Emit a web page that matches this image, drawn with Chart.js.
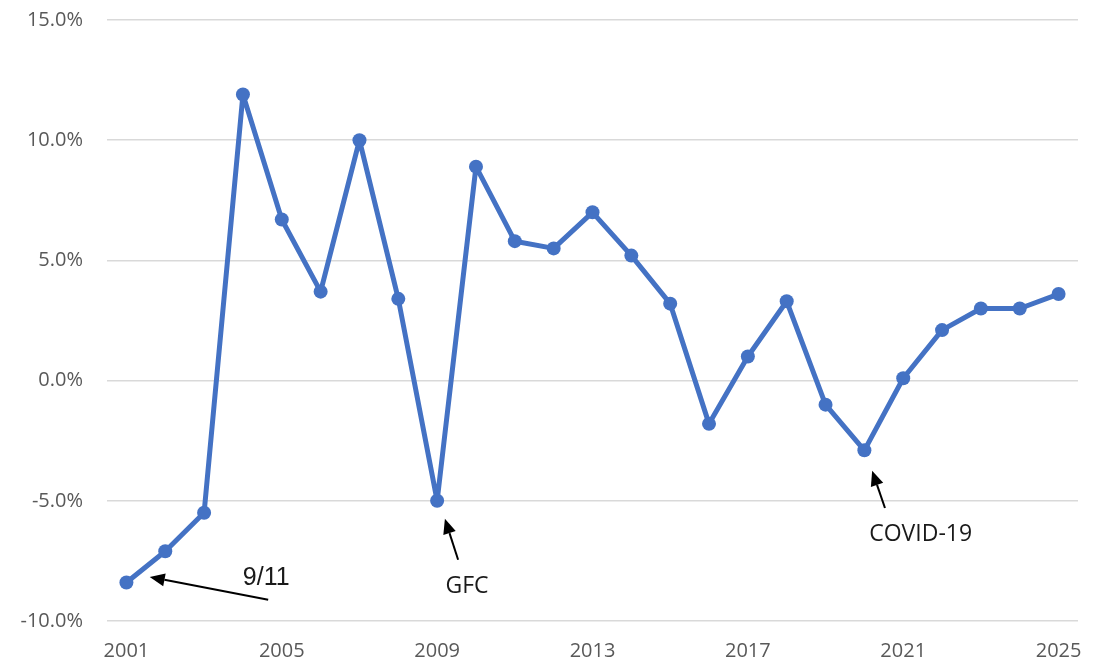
<!DOCTYPE html>
<html>
<head>
<meta charset="utf-8">
<script src="https://cdn.jsdelivr.net/npm/chart.js@4"></script>
<style>
  html, body { margin: 0; padding: 0; background: #fff; }
  #wrap { width: 1099px; height: 662px; }
</style>
</head>
<body>
<div id="wrap"><canvas id="growthChart" width="1099" height="662"></canvas></div>
<script>
    // Years on the category axis
    const years = ['2001', '2002', '2003', '2004', '2005', '2006', '2007', '2008', '2009', '2010',
                   '2011', '2012', '2013', '2014', '2015', '2016', '2017', '2018', '2019', '2020',
                   '2021', '2022', '2023', '2024', '2025'];

    // Annual change, percent
    const growth = [-8.4, -7.1, -5.5, 11.9, 6.7, 3.7, 10.0, 3.4, -5.0, 8.9,
                    5.8, 5.5, 7.0, 5.2, 3.2, -1.8, 1.0, 3.3, -1.0, -2.9,
                    0.1, 2.1, 3.0, 3.0, 3.6];

    const yTicks = [-10, -5, 0, 5, 10, 15];

    // Callouts, placed in data units (category index, percent)
    const callouts = [
        { text: '9/11', font: '25px "Liberation Sans", Arial, sans-serif', at: [3.6, -8.2], tail: [3.65, -9.12], head: [0.6, -8.17] },
        { text: 'GFC', font: '23px "Open Sans", sans-serif', at: [8.77, -8.58], tail: [8.54, -7.45], head: [8.2, -5.75] },
        { text: 'COVID-19', font: '23px "Open Sans", sans-serif', at: [20.45, -6.42], tail: [19.53, -5.3], head: [19.2, -3.75] }
    ];

    const calloutPlugin = {
        id: 'callouts',
        afterDatasetsDraw(chart) {
            const ctx = chart.ctx;
            const x = chart.scales.x;
            const y = chart.scales.y;
            ctx.save();
            callouts.forEach(c => {
                const x1 = x.getPixelForValue(c.tail[0]), y1 = y.getPixelForValue(c.tail[1]);
                const x2 = x.getPixelForValue(c.head[0]), y2 = y.getPixelForValue(c.head[1]);
                const ang = Math.atan2(y2 - y1, x2 - x1);
                const len = 15, half = 6.5;
                const bx = x2 - len * Math.cos(ang), by = y2 - len * Math.sin(ang);

                ctx.strokeStyle = '#000';
                ctx.fillStyle = '#000';
                ctx.lineWidth = 2;
                ctx.beginPath();
                ctx.moveTo(x1, y1);
                ctx.lineTo(bx, by);
                ctx.stroke();

                ctx.beginPath();
                ctx.moveTo(x2, y2);
                ctx.lineTo(bx + half * Math.sin(ang), by - half * Math.cos(ang));
                ctx.lineTo(bx - half * Math.sin(ang), by + half * Math.cos(ang));
                ctx.closePath();
                ctx.fill();

                ctx.font = c.font;
                ctx.fillStyle = '#1a1a1a';
                ctx.textAlign = 'center';
                ctx.textBaseline = 'middle';
                ctx.fillText(c.text, x.getPixelForValue(c.at[0]), y.getPixelForValue(c.at[1]));
            });
            ctx.restore();
        }
    };

    const tickFont = { family: '"Open Sans", sans-serif', size: 20 };

    const config = {
        type: 'line',
        data: {
            labels: years,
            datasets: [{
                data: growth,
                borderColor: '#4472C4',
                backgroundColor: '#4472C4',
                borderWidth: 5,
                borderJoinStyle: 'round',
                borderCapStyle: 'round',
                pointRadius: 7,
                pointBorderWidth: 0,
                pointBackgroundColor: '#4472C4',
                tension: 0
            }]
        },
        options: {
            responsive: false,
            animation: false,
            layout: { padding: { top: 20, right: 21, left: 0, bottom: 0 } },
            scales: {
                x: {
                    offset: true,
                    grid: { display: false },
                    border: { display: false },
                    ticks: {
                        autoSkip: false,
                        maxRotation: 0,
                        color: '#595959',
                        font: tickFont,
                        padding: 10,
                        callback: function(value, index) {
                            return index % 4 === 0 ? years[index] : '';
                        }
                    },
                    afterFit: function(scale) { scale.height = 41; }
                },
                y: {
                    min: -10,
                    max: 15,
                    afterBuildTicks: function(scale) {
                        scale.ticks = yTicks.map(v => ({ value: v }));
                    },
                    grid: { color: '#d9d9d9', lineWidth: 1.5, drawTicks: false },
                    border: { display: false },
                    ticks: {
                        color: '#595959',
                        font: tickFont,
                        padding: 24,
                        callback: function(value) {
                            return value.toFixed(1) + '%';
                        }
                    },
                    afterFit: function(scale) {
                        scale.width = 107;
                        // the label gap should not push the plot down
                        scale.paddingTop = 12;
                        scale.paddingBottom = 12;
                    }
                }
            },
            plugins: {
                legend: { display: false },
                tooltip: { enabled: false }
            }
        },
        plugins: [calloutPlugin]
    };

    new Chart(document.getElementById('growthChart').getContext('2d'), config);
</script>
</body>
</html>
